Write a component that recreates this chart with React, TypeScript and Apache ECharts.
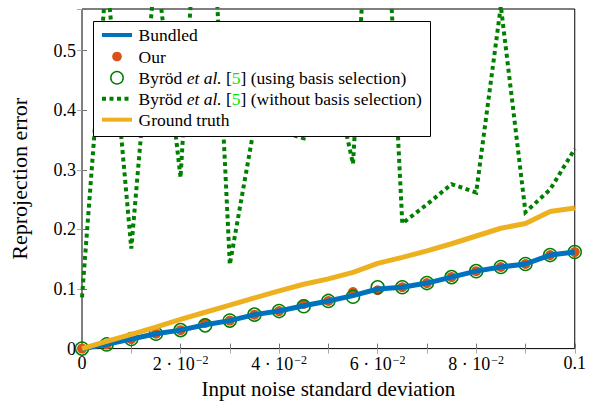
import React, { useEffect, useRef } from "react";
import * as echarts from "echarts";

const noise = [0, 0.005, 0.01, 0.015, 0.02, 0.025, 0.03, 0.035, 0.04, 0.045, 0.05, 0.055, 0.06, 0.065, 0.07, 0.075, 0.08, 0.085, 0.09, 0.095, 0.1];
const bundled = [0, 0.007, 0.016, 0.025, 0.031, 0.04, 0.047, 0.057, 0.063, 0.072, 0.08, 0.089, 0.1, 0.103, 0.11, 0.12, 0.13, 0.137, 0.142, 0.157, 0.162];
const our = [0, 0.007, 0.016, 0.025, 0.031, 0.043, 0.047, 0.057, 0.063, 0.075, 0.08, 0.095, 0.098, 0.103, 0.11, 0.12, 0.13, 0.137, 0.142, 0.157, 0.162];
const byrodBasis = [0, 0.007, 0.016, 0.025, 0.031, 0.039, 0.047, 0.057, 0.063, 0.071, 0.08, 0.087, 0.103, 0.103, 0.11, 0.12, 0.13, 0.137, 0.142, 0.157, 0.162];
const byrodNoBasis = [0.086, 0.63, 0.168, 0.65, 0.287, 1.0, 0.141, 0.375, 0.365, 0.353, 0.5, 0.31, 1.05, 0.21, 0.242, 0.276, 0.262, 0.575, 0.229, 0.267, 0.335];
const groundTruth = [0, 0.012, 0.024, 0.036, 0.049, 0.061, 0.073, 0.085, 0.097, 0.108, 0.117, 0.128, 0.143, 0.153, 0.164, 0.176, 0.189, 0.202, 0.21, 0.23, 0.236];

const seriesNames = [
  "Bundled",
  "Our",
  "Byröd et al. [5] (using basis selection)",
  "Byröd et al. [5] (without basis selection)",
  "Ground truth",
];
const xTickLabels: Record<number, string> = {
  0: "0",
  2: "2 · 10{sup|−2}",
  4: "4 · 10{sup|−2}",
  6: "6 · 10{sup|−2}",
  8: "8 · 10{sup|−2}",
  10: "0.1",
};
const yTickLabels: Record<number, string> = { 0: "0", 1: "0.1", 2: "0.2", 3: "0.3", 4: "0.4", 5: "0.5" };

const FONT = "Liberation Serif";
const BLUE = "#0072BD";
const RED = "#D95319";
const GREEN = "#008000";
const ORANGE = "#EDB120";
const FS = 17.5;
const TFS = 18;

const pairs = (ys: number[]) => noise.map((x, i) => [x, ys[i]]);

function richLabel(name: string) {
  return name.replace("et al.", "{it|et al.}").replace("[5]", "[{g|5}]");
}

export default function App() {
  const ref = useRef<HTMLDivElement>(null);
  useEffect(() => {
    if (!ref.current) return;
    const chart = echarts.init(ref.current, undefined, { renderer: "svg" });
    const L = { x: 93.5, y: 21.5, w: 337, h: 115 };
    const rows = [35, 56.5, 77.7, 98.7, 119.7];
    const iconX0 = 102;
    const iconX1 = 132;
    const textX = 138.5;
    const baseText = { fontFamily: FONT, fontSize: FS, fill: "#000" };
    const legendGraphics: any[] = [
      { type: "rect", shape: { x: L.x, y: L.y, width: L.w, height: L.h }, style: { fill: "#fff", stroke: "#000", lineWidth: 1 }, z: 100 },
      { type: "line", shape: { x1: iconX0, y1: rows[0], x2: iconX1, y2: rows[0] }, style: { stroke: BLUE, lineWidth: 4 }, z: 101 },
      { type: "circle", shape: { cx: (iconX0 + iconX1) / 2, cy: rows[1], r: 4.8 }, style: { fill: RED }, z: 101 },
      { type: "circle", shape: { cx: (iconX0 + iconX1) / 2, cy: rows[2], r: 6.2 }, style: { fill: "none", stroke: GREEN, lineWidth: 1.5 }, z: 101 },
      { type: "line", shape: { x1: iconX0, y1: rows[3], x2: iconX1, y2: rows[3] }, style: { stroke: GREEN, lineWidth: 4, lineDash: [4, 3.5] }, z: 101 },
      { type: "line", shape: { x1: iconX0, y1: rows[4], x2: iconX1, y2: rows[4] }, style: { stroke: ORANGE, lineWidth: 4 }, z: 101 },
    ];
    seriesNames.forEach((n, i) => {
      legendGraphics.push({
        type: "text",
        x: textX,
        y: rows[i],
        z: 101,
        style: {
          ...baseText,
          text: richLabel(n),
          verticalAlign: "middle",
          align: "left",
          rich: {
            it: { fontFamily: FONT, fontSize: FS, fontStyle: "italic", fill: "#000" },
            g: { fontFamily: FONT, fontSize: FS, fill: "#00e600" },
          },
        },
      });
    });

    const xLabelFmt = (v: number) => {
      const k = Math.round(v * 100);
      if (Math.abs(v * 100 - k) > 1e-6) return "";
      return xTickLabels[k] ?? "";
    };
    const yLabelFmt = (v: number) => {
      const k = Math.round(v * 10);
      if (Math.abs(v * 10 - k) > 1e-6) return "";
      return yTickLabels[k] ?? "";
    };

    chart.setOption({
      animation: false,
      backgroundColor: "#fff",
      grid: { left: 81, right: 11, top: 9, bottom: 51, show: true, borderColor: "#000", borderWidth: 1, backgroundColor: "transparent" },
      xAxis: [
        {
          type: "value",
          min: 0,
          max: 0.1,
          interval: 0.01,
          position: "bottom",
          axisLine: { show: false },
          axisTick: { show: true, inside: true, length: 5, lineStyle: { color: "#777" } },
          splitLine: { show: false },
          axisLabel: {
            show: true,
            margin: 5,
            formatter: xLabelFmt,
            fontFamily: FONT,
            fontSize: TFS,
            color: "#000",
            rich: {
              sup: { fontFamily: FONT, fontSize: 12, color: "#000", padding: [0, 0, 9, 1] },
            },
          },
          name: "Input noise standard deviation",
          nameLocation: "middle",
          nameGap: 28,
          nameTextStyle: { fontFamily: FONT, fontSize: 21, color: "#000" },
        },
        {
          type: "value",
          min: 0,
          max: 0.1,
          interval: 0.01,
          position: "top",
          axisLine: { show: false },
          axisTick: { show: true, inside: true, length: 5, lineStyle: { color: "#aaa" } },
          splitLine: { show: false },
          axisLabel: { show: false },
        },
      ],
      yAxis: [
        {
          type: "value",
          min: 0,
          max: 0.57,
          interval: 0.1,
          position: "left",
          axisLine: { show: false },
          axisTick: { show: true, inside: true, length: 5, lineStyle: { color: "#777" } },
          splitLine: { show: false },
          axisLabel: { show: true, margin: 6, formatter: yLabelFmt, fontFamily: FONT, fontSize: TFS, color: "#000" },
          name: "Reprojection error",
          nameLocation: "middle",
          nameGap: 52,
          nameRotate: 90,
          nameTextStyle: { fontFamily: FONT, fontSize: 22, color: "#000" },
        },
        {
          type: "value",
          min: 0,
          max: 0.57,
          interval: 0.1,
          position: "right",
          axisLine: { show: false },
          axisTick: { show: true, inside: true, length: 5, lineStyle: { color: "#aaa" } },
          splitLine: { show: false },
          axisLabel: { show: false },
        },
      ],
      series: [
        {
          name: seriesNames[0],
          type: "line",
          data: pairs(bundled),
          symbol: "none",
          lineStyle: { color: BLUE, width: 5 },
          itemStyle: { color: BLUE },
          clip: true,
        },
        {
          name: seriesNames[1],
          type: "scatter",
          data: pairs(our),
          symbol: "circle",
          symbolSize: 10,
          itemStyle: { color: RED, opacity: 1 },
          clip: true,
        },
        {
          name: seriesNames[2],
          type: "scatter",
          data: pairs(byrodBasis),
          symbol: "circle",
          symbolSize: 13,
          itemStyle: { color: "transparent", borderColor: GREEN, borderWidth: 1.5, opacity: 1 },
          clip: true,
        },
        {
          name: seriesNames[3],
          type: "line",
          data: pairs(byrodNoBasis),
          symbol: "none",
          lineStyle: { color: GREEN, width: 4, type: [4, 3.5], cap: "butt", join: "miter" },
          itemStyle: { color: GREEN },
          clip: true,
        },
        {
          name: seriesNames[4],
          type: "line",
          data: pairs(groundTruth),
          symbol: "none",
          lineStyle: { color: ORANGE, width: 5 },
          itemStyle: { color: ORANGE },
          clip: true,
        },
      ],
      graphic: legendGraphics,
    });
    return () => chart.dispose();
  }, []);
  return <div ref={ref} style={{ position: "fixed", left: 0, top: 0, width: 589, height: 404 }} />;
}
